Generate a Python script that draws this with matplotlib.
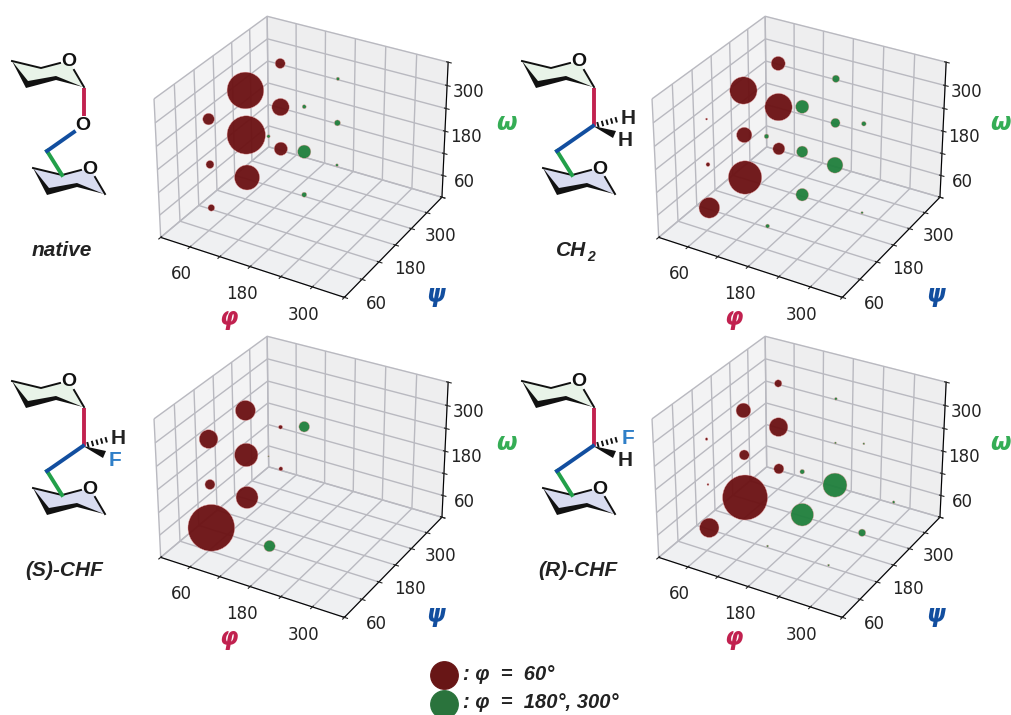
"""Four 3D bubble panels of phi / psi / omega populations with the linkage sketches."""

import matplotlib
matplotlib.use("Agg")
import matplotlib.pyplot as plt
from matplotlib.patches import Polygon

W, H = 1011, 715
ticks = [0, 60, 120, 180, 240, 300, 360]
tick_labels = ["", "60", "", "180", "", "300", ""]

# bubble centres for each nominal rotamer
phi_read = {60: 63.5, 180: 180, 300: 298}
psi_read = {60: 64, 180: 181, 300: 298}
omega_read = {60: 60, 180: 175, 300: 292}

# populations, as marker areas
native_phi = [60, 60, 60, 60, 60, 60, 60, 60, 60, 180, 180, 180, 180, 180, 180, 180]
native_psi = [300, 300, 300, 180, 180, 180, 60, 60, 60, 300, 180, 300, 60, 180, 300, 180]
native_omega = [60, 180, 300, 60, 180, 300, 60, 180, 300, 300, 300, 180, 300, 180, 60, 60]
native_size = [92, 156, 52, 324, 762, 697, 23, 33, 70, 5.8, 8.3, 18.7, 5.8, 92, 3.7, 13]

ch2_phi = [60, 60, 60, 60, 60, 60, 60, 60, 60, 180, 180, 180, 180, 180, 180, 180, 180, 300, 300]
ch2_psi = [300, 300, 300, 180, 180, 180, 60, 60, 60, 300, 300, 300, 180, 180, 180, 60, 60, 180, 180]
ch2_omega = [300, 180, 60, 300, 180, 60, 300, 180, 60, 300, 180, 60, 300, 180, 60, 300, 60, 300, 60]
ch2_size = [102, 387, 75, 387, 122, 576, 2, 8.3, 221, 28, 45, 133, 92, 67, 83, 11.3, 8.3, 11.3, 2.8]

s_phi = [60, 60, 60, 60, 60, 60, 60, 60, 180, 180, 180]
s_psi = [180, 180, 180, 60, 60, 60, 300, 300, 180, 60, 60]
s_omega = [300, 180, 60, 300, 180, 60, 180, 60, 300, 300, 60]
s_size = [207, 282, 251, 181, 52, 1129, 8.3, 8.3, 59, 0.9, 67]

r_phi = [60, 60, 60, 60, 60, 60, 60, 60, 60, 180, 180, 180, 180, 180, 180, 300, 300, 300, 300]
r_psi = [300, 300, 300, 180, 180, 180, 60, 60, 60, 300, 300, 300, 180, 180, 60, 180, 180, 60, 300]
r_omega = [300, 180, 60, 300, 180, 60, 300, 180, 60, 300, 180, 60, 180, 60, 60, 300, 60, 60, 60]
r_size = [28, 181, 52, 112, 52, 1050, 3.7, 2, 194, 3.7, 2, 299, 11.3, 266, 2, 2, 28, 2, 3.7]

panels = [
    (native_phi, native_psi, native_omega, native_size, 0, 0),
    (ch2_phi, ch2_psi, ch2_omega, ch2_size, 498, 0),
    (s_phi, s_psi, s_omega, s_size, 0, 320),
    (r_phi, r_psi, r_omega, r_size, 498, 320),
]

maroon = "#6b1012"
green = "#1f7f3c"
crimson = "#c1214f"
blue = "#124e9f"
omega_green = "#35ad55"
dark = "#222222"
sans = ["Liberation Sans", "DejaVu Sans"]

fig = plt.figure(figsize=(W / 100, H / 100), dpi=100)

for phi, psi, omega, size, dx, dy in panels:
    left, top, side = 136 + dx, dy - 9, 327
    ax = fig.add_axes([left / W, 1 - (top + side) / H, side / W, side / H], projection="3d")
    ax.patch.set_alpha(0)
    colors = [maroon if p == 60 else green for p in phi]
    ax.scatter([phi_read[p] for p in phi], [psi_read[p] for p in psi], [omega_read[p] for p in omega],
               s=size, c=colors, alpha=0.95, depthshade=False, edgecolors="#e8a0a0", linewidths=0.3)
    ax.set_xlim(0, 360)
    ax.set_ylim(0, 360)
    ax.set_zlim(0, 360)
    ax.set_xticks(ticks, tick_labels)
    ax.set_yticks(ticks, tick_labels)
    ax.set_zticks(ticks, tick_labels)
    ax.tick_params(labelsize=12, colors=dark, pad=1.5)
    for axis, pane in [(ax.xaxis, "#f3f3f4"), (ax.yaxis, "#eeeeef"), (ax.zaxis, "#eff0f2")]:
        axis.set_pane_color(pane)
        axis._axinfo["grid"]["color"] = "#b9b9c0"
        axis._axinfo["grid"]["linewidth"] = 1.0

over = fig.add_axes([0, 0, 1, 1], zorder=5)
over.set_xlim(0, W)
over.set_ylim(H, 0)
over.axis("off")


def ring(dx, dy, fill):
    # chair outline, shared by both rings; coordinates in pixels from the ring's left tip
    over.add_patch(Polygon([(dx, dy), (dx + 29, dy + 7), (dx + 50, dy + 2), (dx + 60, dy + 5),
                            (dx + 72, dy + 26), (dx + 45, dy + 17), (dx + 15, dy + 26)],
                           closed=True, fc=fill, ec="none"))
    over.plot([dx, dx + 29, dx + 48], [dy, dy + 7, dy + 2], color="#111111", lw=1.4)
    over.plot([dx + 62, dx + 72], [dy + 9, dy + 26], color="#111111", lw=1.4)
    over.add_patch(Polygon([(dx, dy), (dx + 16, dy + 20), (dx + 44, dy + 15), (dx + 71, dy + 26),
                            (dx + 44, dy + 19), (dx + 14, dy + 27)], closed=True, fc="#111111", ec="none"))
    over.text(dx + 57, dy + 1, "O", ha="center", va="center", fontsize=14, weight="bold", color="#111111", family=sans)


def molecule(dx, dy, kind):
    ring(dx + 12, dy + 61, "#e8f3e8")
    ring(dx + 33, dy + 168, "#d9dcf0")
    over.plot([dx + 84, dx + 84], [dy + 88, dy + (116 if kind == "native" else 126)], color=crimson, lw=2.8, solid_capstyle="butt")
    over.plot([dx + 47, dx + 62], [dy + 151, dy + 175], color="#22a04a", lw=2.8)
    if kind == "native":
        over.text(dx + 83, dy + 126, "O", ha="center", va="center", fontsize=14, weight="bold", color="#111111", family=sans)
        over.plot([dx + 74, dx + 47], [dy + 132, dy + 151], color=blue, lw=2.8)
        return
    over.plot([dx + 83, dx + 47], [dy + 126, dy + 151], color=blue, lw=2.8)
    over.plot([dx + 87, dx + 109], [dy + 125, dy + 119], color="#111111", lw=4, linestyle=(0, (0.35, 0.5)))
    over.add_patch(Polygon([(dx + 83, dy + 126), (dx + 106, dy + 131), (dx + 103, dy + 138)], closed=True, fc="#111111", ec="none"))
    labels = {"ch2": ("H", dark, "H", dark), "s": ("H", dark, "F", "#2f7fc8"), "r": ("F", "#2f7fc8", "H", dark)}[kind]
    over.text(dx + 118, dy + 118, labels[0], ha="center", va="center", fontsize=15, weight="bold", color=labels[1], family=sans)
    over.text(dx + 115, dy + 141, labels[2], ha="center", va="center", fontsize=15, weight="bold", color=labels[3], family=sans)


molecule(0, 0, "native")
molecule(510, 0, "ch2")
molecule(0, 320, "s")
molecule(510, 320, "r")

name_style = dict(ha="center", va="center", fontsize=15, weight="bold", style="italic", color=dark, family=sans)
over.text(62, 250, "native", **name_style)
over.text(571, 250, "CH", **name_style)
over.text(591, 257, "2", ha="center", va="center", fontsize=10, weight="bold", style="italic", color=dark, family=sans)
over.text(64, 571, "(S)-CHF", **name_style)
over.text(578, 571, "(R)-CHF", **name_style)

axis_style = dict(ha="center", va="center", fontsize=17, weight="bold", style="italic", family="DejaVu Sans")
for x_phi, x_psi, x_omega, dy in [(228, 435, 506, 0), (733, 935, 1000, 0), (228, 435, 506, 320), (733, 935, 1000, 320)]:
    over.text(x_phi, 318 + dy, "φ", color=crimson, **axis_style)
    over.text(x_psi, 295 + dy, "ψ", color=blue, **axis_style)
    over.text(x_omega, 123 + dy, "ω", color=omega_green, **axis_style)

over.scatter([444], [675], s=390, color="#681616", clip_on=True)
over.scatter([444], [704], s=390, color="#2a733c", clip_on=True)
legend_style = dict(ha="left", va="center", fontsize=14.5, weight="bold", style="italic", color=dark, family=sans)
over.text(463, 675, ": φ  =  60°", **legend_style)
over.text(463, 703, ": φ  =  180°, 300°", **legend_style)

fig.savefig("out.png", dpi=100)
